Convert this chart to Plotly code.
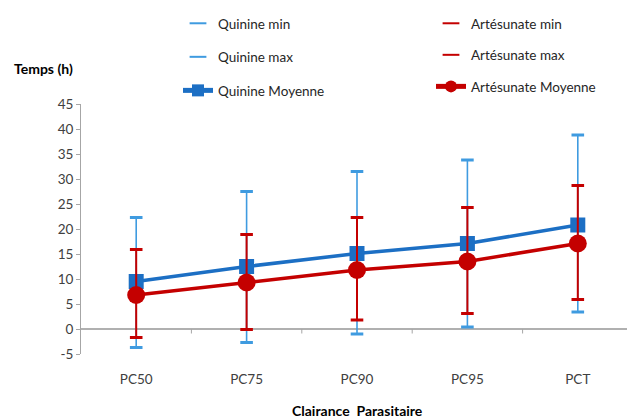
import plotly.graph_objects as go

categories = ["PC50", "PC75", "PC90", "PC95", "PCT"]
quinine_mean = [9.5, 12.5, 15.1, 17.1, 20.8]
quinine_min = [-3.7, -2.7, -1.0, 0.4, 3.4]
quinine_max = [22.3, 27.5, 31.5, 33.8, 38.8]
artesunate_mean = [6.8, 9.3, 11.8, 13.5, 17.1]
artesunate_min = [-1.7, -0.1, 1.8, 3.1, 5.9]
artesunate_max = [15.9, 18.9, 22.3, 24.3, 28.7]
y_ticks = [-5, 0, 5, 10, 15, 20, 25, 30, 35, 40, 45]
y_tick_labels = [str(v) for v in y_ticks]

BLUE = "#1c6fc4"
LBLUE = "#3f9be0"
RED = "#c40000"
FONT = "Lato, Open Sans, sans-serif"

OFF = 8  # default page body margin
W, H = 635 - OFF, 419 - OFF
ML, MR, MT, MB = 81 - OFF, 2, 104 - OFF, H - (354 - OFF)
PW, PH = W - ML - MR, H - MT - MB


def px_x(px):
    return (px - OFF - ML) / PW


def px_y(py):
    return (H - MB - (py - OFF)) / PH


def err(mean, lo, hi):
    return ([h - m for m, h in zip(mean, hi)], [m - l for m, l in zip(mean, lo)])


q_up, q_dn = err(quinine_mean, quinine_min, quinine_max)
a_up, a_dn = err(artesunate_mean, artesunate_min, artesunate_max)

fig = go.Figure()

fig.add_trace(go.Scatter(x=categories, y=quinine_min, mode="markers", name="Quinine min",
                         marker=dict(symbol="line-ew", size=9, line=dict(color=LBLUE, width=3)),
                         legend="legend", legendgroup="qmin"))
fig.add_trace(go.Scatter(x=categories, y=quinine_max, mode="markers", name="Quinine max",
                         marker=dict(symbol="line-ew", size=9, line=dict(color=LBLUE, width=3)),
                         legend="legend", legendgroup="qmax"))
fig.add_trace(go.Scatter(x=categories, y=quinine_mean, mode="lines+markers", name="Quinine Moyenne",
                         line=dict(color=BLUE, width=3.5),
                         marker=dict(symbol="square", size=15, color=BLUE),
                         error_y=dict(type="data", array=q_up, arrayminus=q_dn, color=LBLUE,
                                      thickness=1.6, width=0),
                         legend="legend", legendgroup="qmoy"))

fig.add_trace(go.Scatter(x=categories, y=artesunate_min, mode="markers", name="Artésunate min",
                         marker=dict(symbol="line-ew", size=9, line=dict(color=RED, width=3)),
                         legend="legend2", legendgroup="amin"))
fig.add_trace(go.Scatter(x=categories, y=artesunate_max, mode="markers", name="Artésunate max",
                         marker=dict(symbol="line-ew", size=9, line=dict(color=RED, width=3)),
                         legend="legend2", legendgroup="amax"))
fig.add_trace(go.Scatter(x=categories, y=artesunate_mean, mode="lines+markers", name="Artésunate Moyenne",
                         line=dict(color=RED, width=3.5),
                         marker=dict(symbol="circle", size=18, color=RED),
                         error_y=dict(type="data", array=a_up, arrayminus=a_dn, color=RED,
                                      thickness=2, width=0),
                         legend="legend2", legendgroup="amoy"))

shapes = []
for i in range(len(categories) - 1):
    shapes.append(dict(type="line", xref="x", yref="y", x0=i + 0.5, x1=i + 0.5, y0=0, y1=-0.9,
                       line=dict(color="#a6a6a6", width=1)))

leg_common = dict(font=dict(family=FONT, size=13.5, color="#262626"), bgcolor="rgba(0,0,0,0)",
                  borderwidth=0, xref="container", yref="container",
                  xanchor="left", yanchor="top", orientation="v", itemsizing="constant")

fig.update_layout(
    width=W, height=H,
    margin=dict(l=ML, r=MR, t=MT, b=MB, autoexpand=False),
    paper_bgcolor="white", plot_bgcolor="white",
    showlegend=True,
    legend=dict(x=(178 - OFF) / W, y=1 + 6 / H, tracegroupgap=13, **leg_common),
    legend2=dict(x=(431 - OFF) / W, y=1 + 4 / H, tracegroupgap=11, **leg_common),
    xaxis=dict(type="category", range=[-0.5, 4.5], showline=False, showgrid=False, zeroline=False,
               ticks="", tickfont=dict(family=FONT, size=13.5, color="#404040"),
               ticklabelstandoff=15, tickangle=0, automargin=False),
    yaxis=dict(range=[-5, 45], tickvals=y_ticks, ticktext=y_tick_labels, showgrid=False,
               showline=True, linecolor="#a6a6a6", linewidth=1, ticks="outside", ticklen=4,
               tickcolor="#a6a6a6", zeroline=True, zerolinecolor="#b0b0b0", zerolinewidth=1.5,
               automargin=False, tickfont=dict(family=FONT, size=13.5, color="#404040")),
    shapes=shapes,
    annotations=[
        dict(text="<b>Temps (h)</b>", xref="paper", yref="paper", x=px_x(12), y=px_y(68),
             xanchor="left", yanchor="middle", showarrow=False,
             font=dict(family=FONT, size=14, color="#000000")),
        dict(text="<b>Clairance  Parasitaire</b>", xref="paper", yref="paper",
             x=px_x(357), y=px_y(410), xanchor="center", yanchor="middle", showarrow=False,
             font=dict(family=FONT, size=14, color="#000000")),
    ],
)

fig.write_html("out.html")
